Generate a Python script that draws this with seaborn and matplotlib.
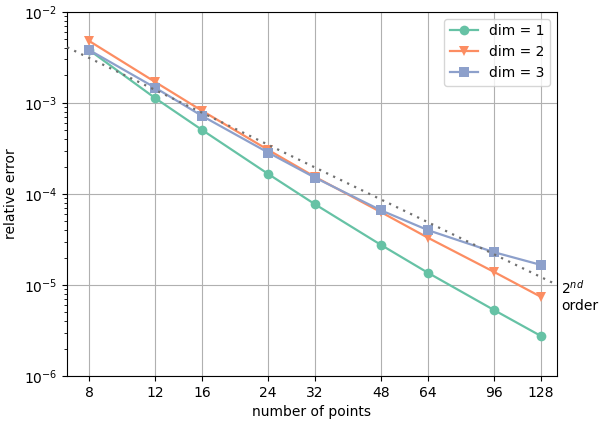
import numpy as np
import pandas as pd
import matplotlib
matplotlib.use("Agg")
import matplotlib.pyplot as plt
import matplotlib.ticker as mticker
import seaborn as sns

n_points = [8, 12, 16, 24, 32, 48, 64, 96, 128]
err_dim1 = [3.82e-3, 1.13e-3, 5.05e-4, 1.66e-4, 7.7e-5, 2.75e-5, 1.36e-5, 5.3e-6, 2.75e-6]
err_dim2 = [4.8e-3, 1.7e-3, 8.2e-4, 3.05e-4, 1.54e-4, 6.3e-5, 3.3e-5, 1.39e-5, 7.4e-6]
err_dim3 = [3.82e-3, 1.47e-3, 7.2e-4, 2.85e-4, 1.51e-4, 6.6e-5, 4.0e-5, 2.29e-5, 1.66e-5]
labels = ["dim = 1", "dim = 2", "dim = 3"]
ref_n = [7, 141]
ref_err = [4.08e-3, 1.006e-5]

rows = []
for lab, errs in zip(labels, [err_dim1, err_dim2, err_dim3]):
    for n, e in zip(n_points, errs):
        rows.append({"n": n, "err": e, "series": lab})
df = pd.DataFrame(rows)

plt.rcParams.update(plt.rcParamsDefault)
fig = plt.figure(figsize=(6, 4.23), dpi=100)
ax = fig.add_axes([0.112, 0.111, 0.816, 0.861])

palette = sns.color_palette("Set2", 3)
ax.plot(ref_n, ref_err, linestyle=(0, (1, 2.5)), color="#707070", lw=1.6, zorder=3)
sns.lineplot(data=df, x="n", y="err", hue="series", style="series",
             markers=["o", "v", "s"], dashes=False, palette=palette,
             markersize=7, markeredgewidth=0, lw=1.6, ax=ax, zorder=2)

ax.set_xscale("log")
ax.set_yscale("log")
ax.set_xlim(7, 141)
ax.set_ylim(1e-6, 1e-2)
ax.xaxis.set_major_locator(mticker.FixedLocator(n_points))
ax.xaxis.set_major_formatter(mticker.FixedFormatter([str(n) for n in n_points]))
ax.xaxis.set_minor_locator(mticker.NullLocator())
ax.grid(True, which="major", color="#b0b0b0", lw=0.8)
ax.set_axisbelow(True)
ax.set_xlabel("number of points")
ax.set_ylabel("relative error")

h, l = ax.get_legend_handles_labels()
ax.legend(h, l, loc="upper right")

ax.annotate("$2^{nd}$\norder", xy=(141, ref_err[1]), xycoords="data",
            xytext=(3, -8), textcoords="offset points", ha="left", va="center",
            fontsize=10, annotation_clip=False)

fig.savefig("out.png", dpi=100)
